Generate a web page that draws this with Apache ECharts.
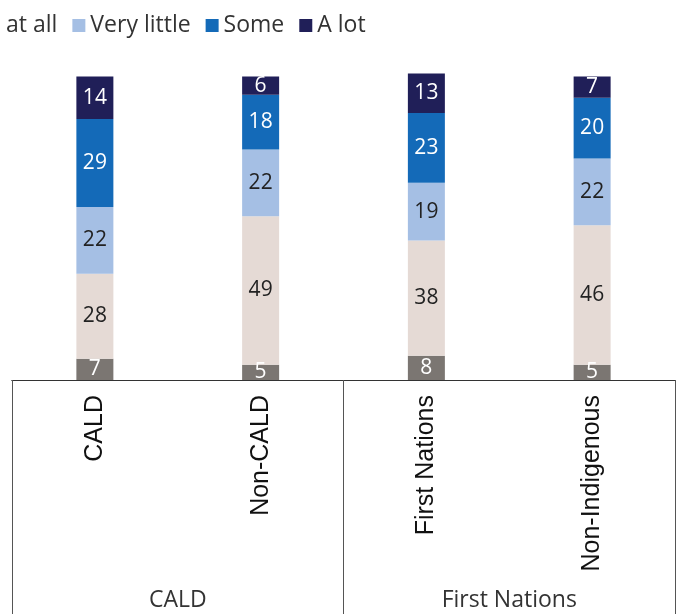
<!DOCTYPE html>
<html><head><meta charset="utf-8">
<script src="https://cdn.jsdelivr.net/npm/echarts@6/dist/echarts.min.js"></script>
<style>html,body{margin:0;padding:0;background:#fff}#c{width:683px;height:614px}</style>
</head><body><div id="c"></div>
<script>
const categories = ["CALD", "Non-CALD", "First Nations", "Non-Indigenous"];
const groups = ["CALD", "First Nations"];
const seriesNames = ["Don't know", "Not at all", "Very little", "Some", "A lot"];
const dontKnow = [7, 5, 8, 5];
const notAtAll = [28, 49, 38, 46];
const veryLittle = [22, 22, 19, 22];
const some = [29, 18, 23, 20];
const aLot = [14, 6, 13, 7];
const colors = ["#7b7672", "#e5dad5", "#a5bfe4", "#146ab8", "#201f58"];
const labelColors = ["#ffffff", "#222222", "#222222", "#ffffff", "#ffffff"];
const values = [dontKnow, notAtAll, veryLittle, some, aLot];
const FONT = "Open Sans";

const chart = echarts.init(document.getElementById('c'));
chart.setOption({
  animation: false,
  textStyle: {fontFamily: FONT},
  color: colors,
  legend: {
    left: -217, top: 9,
    itemWidth: 13, itemHeight: 13, itemGap: 15,
    icon: 'rect',
    textStyle: {fontFamily: FONT, fontSize: 23, color: '#333'},
    data: seriesNames
  },
  grid: {left: 12, right: 8, top: 76, bottom: 234, containLabel: false},
  xAxis: [
    {
      type: 'category', data: categories, position: 'bottom',
      axisLine: {show: true, lineStyle: {color: '#333', width: 1}},
      axisTick: {show: false},
      axisLabel: {rotate: 90, margin: 15, fontFamily: 'Liberation Sans', fontSize: 25, color: '#111', interval: 0}
    },
    {
      type: 'category', data: groups, position: 'bottom',
      axisLine: {show: true, lineStyle: {color: '#333', width: 1}},
      axisTick: {show: true, length: 240, lineStyle: {color: '#555', width: 1}},
      axisLabel: {margin: 209, fontFamily: FONT, fontSize: 23, color: '#333', interval: 0}
    }
  ],
  yAxis: {type: 'value', min: 0, max: 100.2, show: false},
  series: seriesNames.map((n, i) => ({
    name: n, type: 'bar', stack: 'total', xAxisIndex: 0,
    data: values[i], barWidth: 37, clip: false,
    itemStyle: {color: colors[i]},
    label: {show: true, position: 'inside', fontFamily: FONT, fontSize: 21, color: labelColors[i]}
  }))
});
</script></body></html>
